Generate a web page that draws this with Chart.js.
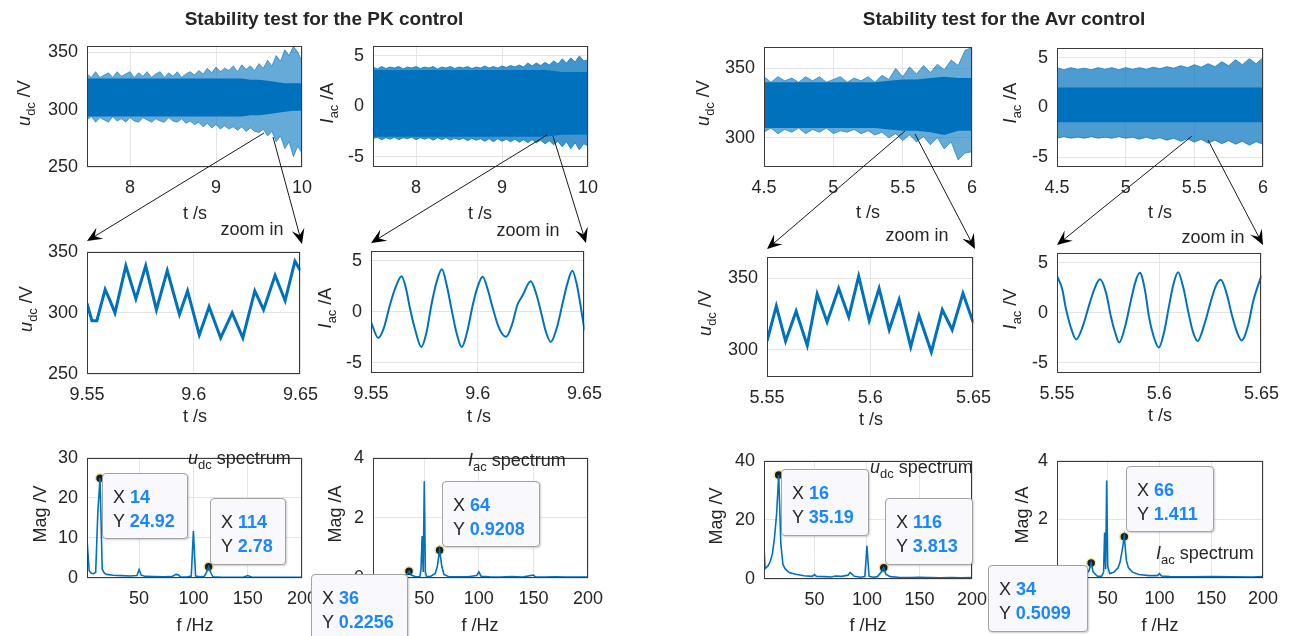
<!DOCTYPE html>
<html>
<head>
<meta charset="utf-8">
<script src="https://cdn.jsdelivr.net/npm/chart.js@4.4.1/dist/chart.umd.min.js"></script>
<style>
  body { margin: 0; background: #fff; }
  #fig { position: relative; width: 1290px; height: 636px; overflow: hidden; font-family: "Liberation Sans", Arial, sans-serif; color: #262626; }
  #fig canvas { position: absolute; }
  #fig svg { position: absolute; left: 0; top: 0; }
  .txt { position: absolute; white-space: nowrap; font-size: 18px; line-height: 1; }
  .txt sub { font-size: 13px; vertical-align: -5px; line-height: 0; }
  .ttl { font-weight: bold; font-size: 19px; transform: translate(-50%, -50%); }
  .ctr { transform: translate(-50%, -50%); }
  .ylab { transform: translate(-50%, -50%) rotate(-90deg); }
  .lft { transform: translateY(-50%); }
  .tip { position: absolute; box-sizing: border-box; background: #f9f9fd; border: 1px solid #a3a3a3; border-radius: 4px;
         box-shadow: 1px 1px 2px rgba(0,0,0,.2); font-size: 18px; line-height: 24px; padding: 11px 0 0 10px; white-space: nowrap; }
  .tip b { color: #1a86ff; }
</style>
</head>
<body>
<div id="fig"></div>
<script>
// ---- PK control: long records (spiky outer envelope + dense core) ----
const tTopPKFine = [7.5, 7.55, 7.6, 7.65, 7.7, 7.75, 7.8, 7.85, 7.9, 7.95, 8.0, 8.05, 8.1, 8.15, 8.2, 8.25, 8.3, 8.35, 8.4, 8.45, 8.5, 8.55, 8.6, 8.65, 8.7, 8.75, 8.8, 8.85, 8.9, 8.95, 9.0, 9.05, 9.1, 9.15, 9.2, 9.25, 9.3, 9.35, 9.4, 9.45, 9.5, 9.55, 9.6, 9.65, 9.7, 9.75, 9.8, 9.85, 9.9, 9.95, 10.0];
const udcPKOuterUp = [331, 328, 333, 328, 330, 332, 328, 333, 329, 331, 333, 328, 332, 329, 333, 328, 331, 333, 328, 332, 329, 333, 328, 331, 333, 330, 334, 331, 336, 332, 337, 333, 336, 334, 338, 333, 339, 335, 338, 334, 340, 336, 343, 338, 347, 342, 352, 347, 355, 350, 342];
const udcPKOuterLo = [291, 294, 289, 293, 291, 289, 294, 290, 292, 289, 293, 290, 289, 293, 291, 289, 292, 290, 289, 293, 290, 289, 292, 288, 290, 287, 289, 285, 288, 284, 287, 283, 286, 283, 285, 282, 285, 281, 284, 281, 280, 283, 277, 281, 272, 277, 266, 272, 259, 268, 262];
const iacPKOuterUp = [3.9, 3.7, 3.95, 3.75, 3.9, 3.8, 3.95, 3.7, 3.9, 3.8, 3.95, 3.75, 3.9, 3.8, 3.95, 3.7, 3.9, 3.8, 3.95, 3.75, 3.9, 3.8, 3.95, 3.75, 3.9, 3.8, 4.0, 3.8, 3.95, 3.8, 4.0, 3.85, 4.05, 3.9, 4.1, 3.9, 4.3, 4.0, 4.3, 4.05, 4.35, 4.1, 4.5, 4.2, 4.7, 4.3, 4.8, 4.4, 5.0, 4.5, 4.6];
const iacPKOuterLo = [-3.2, -3.05, -3.3, -3.1, -3.25, -3.05, -3.3, -3.1, -3.2, -3.05, -3.3, -3.1, -3.25, -3.1, -3.35, -3.1, -3.3, -3.1, -3.35, -3.15, -3.3, -3.15, -3.4, -3.15, -3.35, -3.2, -3.45, -3.2, -3.5, -3.2, -3.45, -3.25, -3.5, -3.25, -3.55, -3.3, -3.6, -3.3, -3.6, -3.35, -3.7, -3.4, -3.8, -3.45, -4.0, -3.5, -4.2, -3.6, -4.3, -3.7, -3.9];
const tTopPK = [7.5, 7.6, 7.7, 7.8, 7.9, 8.0, 8.1, 8.2, 8.3, 8.4, 8.5, 8.6, 8.7, 8.8, 8.9, 9.0, 9.1, 9.2, 9.3, 9.4, 9.5, 9.6, 9.7, 9.8, 9.9, 10.0];
const udcPKCoreUp = [327, 327, 327, 327, 327, 327, 327, 327, 327, 327, 327, 327, 327, 327, 327, 327, 327, 327, 327, 326, 326, 325, 324, 323, 323, 323];
const udcPKCoreLo = [294, 294, 294, 294, 294, 294, 294, 294, 294, 294, 294, 294, 294, 294, 294, 294, 294, 294, 294, 295, 295, 296, 297, 298, 299, 299];
const iacPKCoreUp = [3.6, 3.6, 3.6, 3.6, 3.6, 3.6, 3.6, 3.6, 3.6, 3.6, 3.6, 3.6, 3.6, 3.6, 3.6, 3.6, 3.6, 3.6, 3.6, 3.6, 3.6, 3.5, 3.4, 3.4, 3.4, 3.4];
const iacPKCoreLo = [-3.0, -3.0, -3.0, -3.0, -3.0, -3.0, -3.0, -3.0, -3.0, -3.0, -3.0, -3.0, -3.0, -3.0, -3.0, -3.0, -3.0, -3.0, -3.0, -3.0, -3.0, -2.9, -2.8, -2.8, -2.8, -2.8];

// ---- PK control: zoom 9.55 .. 9.65 s ----
const tZoomPKu = [9.55, 9.5523, 9.5546, 9.5585, 9.5608, 9.5631, 9.5682, 9.5729, 9.5775, 9.5825, 9.5876, 9.5933, 9.5971, 9.6026, 9.6072, 9.6126, 9.618, 9.623, 9.6286, 9.6327, 9.6381, 9.6428, 9.6474, 9.65];
const udcZoomPK = [307.7, 293.6, 293.6, 319.2, 310, 300, 338.5, 311.5, 338.5, 302.6, 334.6, 298.7, 318, 282, 305, 279.5, 300, 279.5, 318, 302.6, 330.8, 310, 342.3, 334.6];
const tZoomPKi = [9.55, 9.5534, 9.556, 9.5589, 9.5615, 9.5643, 9.5665, 9.5682, 9.571, 9.5736, 9.576, 9.5783, 9.5808, 9.5832, 9.5855, 9.5876, 9.59, 9.5925, 9.595, 9.5977, 9.6, 9.6023, 9.6047, 9.607, 9.61, 9.6132, 9.616, 9.6186, 9.621, 9.6248, 9.6272, 9.6295, 9.632, 9.6342, 9.637, 9.6396, 9.642, 9.6443, 9.6465, 9.6481, 9.65];
const iacZoomPK = [-1.0, -2.55, -1.6, 0.7, 2.4, 3.5, 2.2, 0.4, -2.0, -3.45, -2.0, 0.7, 3.0, 4.2, 2.6, 0.4, -2.0, -3.45, -2.0, 0.7, 2.5, 3.45, 2.2, 0.4, -1.6, -2.45, -1.3, 0.7, 1.6, 3.0, 1.9, 0.1, -2.0, -2.95, -1.6, 0.7, 2.8, 4.05, 2.6, 0.7, -1.8];

// ---- PK control: spectra ----
const fSpecPKu = [2, 4, 6, 8, 10, 12, 14, 16, 18, 20, 26, 34, 42, 48, 50, 52, 56, 64, 72, 80, 84, 86, 88, 94, 98, 100, 102, 106, 110, 112, 114, 116, 118, 126, 136, 146, 150, 154, 166, 176, 186, 196, 200];
const magSpecPKu = [9.7, 1.8, 1.2, 1.1, 1.4, 16.5, 24.92, 2.2, 1.2, 0.9, 0.7, 0.6, 0.5, 0.6, 2.1, 0.7, 0.4, 0.35, 0.3, 0.35, 0.9, 0.8, 0.3, 0.25, 0.5, 11.7, 0.5, 0.3, 0.4, 1.4, 2.78, 1.3, 0.3, 0.2, 0.2, 0.2, 0.6, 0.2, 0.15, 0.2, 0.15, 0.15, 0.15];
const fSpecPKi = [3, 10, 20, 30, 34, 36, 38, 42, 46, 47, 48, 49, 50, 51, 52, 56, 60, 62, 64, 66, 68, 72, 80, 90, 98, 100, 102, 110, 120, 130, 140, 150, 152, 160, 170, 180, 190, 200];
const magSpecPKi = [0.03, 0.02, 0.03, 0.05, 0.12, 0.2256, 0.1, 0.04, 0.05, 0.3, 1.4, 0.2, 3.22, 0.2, 0.05, 0.06, 0.15, 0.4, 0.9208, 0.4, 0.12, 0.05, 0.04, 0.04, 0.08, 0.2, 0.06, 0.04, 0.03, 0.05, 0.03, 0.1, 0.03, 0.03, 0.04, 0.03, 0.03, 0.03];
const tipsPKu = [[14, 24.92], [114, 2.78]];
const tipsPKi = [[64, 0.9208], [36, 0.2256]];

// ---- Avr control: long records ----
const tTopAvrFine = [4.5, 4.55, 4.6, 4.65, 4.7, 4.75, 4.8, 4.85, 4.9, 4.95, 5.0, 5.05, 5.1, 5.15, 5.2, 5.25, 5.3, 5.35, 5.4, 5.45, 5.5, 5.55, 5.6, 5.65, 5.7, 5.75, 5.8, 5.85, 5.9, 5.95, 6.0];
const udcAvrOuterUp = [344, 340, 344, 341, 343, 340, 344, 341, 344, 340, 342, 344, 340, 343, 341, 344, 340, 345, 342, 350, 344, 351, 346, 352, 347, 353, 349, 356, 352, 363, 365];
const udcAvrOuterLo = [304, 307, 303, 306, 304, 307, 303, 306, 304, 307, 303, 305, 304, 306, 303, 305, 302, 304, 300, 303, 298, 302, 297, 301, 295, 300, 292, 297, 284, 289, 290];
const iacAvrOuterUp = [4.0, 3.8, 4.0, 3.85, 3.95, 3.8, 4.0, 3.85, 4.0, 3.8, 4.0, 3.85, 4.0, 3.85, 4.05, 3.9, 4.1, 3.95, 4.2, 4.0, 4.3, 4.05, 4.4, 4.1, 4.6, 4.2, 4.8, 4.3, 4.9, 4.4, 5.0];
const iacAvrOuterLo = [-3.1, -2.95, -3.1, -3.0, -3.1, -2.95, -3.1, -3.0, -3.1, -2.95, -3.1, -3.0, -3.2, -3.0, -3.2, -3.05, -3.3, -3.1, -3.4, -3.15, -3.5, -3.2, -3.6, -3.3, -3.65, -3.35, -3.7, -3.4, -3.8, -3.45, -3.7];
const tTopAvr = [4.5, 4.6, 4.7, 4.8, 4.9, 5.0, 5.1, 5.2, 5.3, 5.4, 5.5, 5.6, 5.7, 5.8, 5.9, 6.0];
const udcAvrCoreUp = [340, 340, 340, 340, 340, 340, 340, 340, 340, 341, 342, 342, 343, 344, 343, 343];
const udcAvrCoreLo = [307, 307, 307, 307, 307, 307, 307, 307, 307, 306, 305, 305, 304, 302, 305, 305];
const iacAvrCoreUp = [2.0, 2.0, 2.0, 2.0, 2.0, 2.0, 2.0, 2.0, 2.0, 2.0, 2.0, 2.0, 2.0, 2.0, 2.0, 2.0];
const iacAvrCoreLo = [-1.5, -1.5, -1.5, -1.5, -1.5, -1.5, -1.5, -1.5, -1.5, -1.5, -1.5, -1.5, -1.5, -1.5, -1.5, -1.5];

// ---- Avr control: zoom 5.55 .. 5.65 s ----
const tZoomAvru = [5.55, 5.5545, 5.559, 5.5641, 5.5695, 5.5743, 5.5791, 5.5847, 5.5896, 5.5944, 5.5995, 5.6043, 5.6092, 5.614, 5.6196, 5.6236, 5.6296, 5.6349, 5.6397, 5.6449, 5.65];
const udcZoomAvr = [306, 330.5, 306, 327, 303, 339, 319.5, 343, 323, 351.5, 320.5, 343, 314, 335, 302, 324, 298.5, 328, 314, 339.5, 318.5];
const tZoomAvri = [5.55, 5.5525, 5.5545, 5.557, 5.5594, 5.5625, 5.5659, 5.5685, 5.571, 5.574, 5.5764, 5.5785, 5.5804, 5.5835, 5.5861, 5.5885, 5.5905, 5.593, 5.595, 5.5975, 5.5998, 5.6025, 5.6047, 5.607, 5.6092, 5.6118, 5.6141, 5.6165, 5.6188, 5.622, 5.6249, 5.6275, 5.6301, 5.633, 5.6354, 5.638, 5.6403, 5.6435, 5.646, 5.65];
const iacZoomAvr = [3.7, 2.4, 0.3, -1.6, -2.65, -1.4, 0.9, 2.5, 3.35, 2.0, -0.4, -2.0, -2.95, -1.2, 1.2, 3.2, 4.0, 2.3, -0.4, -2.5, -3.45, -1.8, 0.6, 2.9, 4.05, 2.5, 0.2, -1.9, -2.8, -1.2, 0.9, 2.6, 3.3, 1.9, -0.1, -1.9, -2.75, -1.2, 1.2, 3.75];

// ---- Avr control: spectra ----
const fSpecAvru = [2, 3, 6, 8, 10, 12, 14, 16, 18, 20, 22, 26, 32, 40, 48, 50, 52, 60, 66, 70, 76, 82, 84, 86, 88, 94, 98, 100, 102, 106, 110, 114, 116, 118, 122, 130, 140, 150, 160, 170, 180, 190, 200];
const magSpecAvru = [11.2, 3.5, 4.5, 6, 8.5, 14, 22, 35.19, 12, 5, 3.5, 2.2, 1.6, 1.1, 0.9, 1.5, 0.9, 0.8, 0.7, 1.0, 0.9, 1.3, 2.2, 1.6, 0.9, 0.6, 0.8, 11.2, 0.9, 0.6, 0.8, 2.5, 3.813, 1.6, 0.8, 0.6, 0.5, 0.6, 0.5, 0.4, 0.5, 0.4, 0.5];
const fSpecAvri = [1, 10, 20, 28, 32, 34, 36, 40, 44, 46, 47, 48, 49, 50, 52, 56, 60, 62, 64, 66, 68, 70, 74, 80, 90, 98, 100, 102, 110, 130, 150, 170, 190, 200];
const magSpecAvri = [0.05, 0.04, 0.05, 0.08, 0.25, 0.5099, 0.2, 0.06, 0.06, 0.2, 1.55, 0.3, 3.33, 0.4, 0.15, 0.2, 0.35, 0.55, 0.95, 1.411, 0.6, 0.35, 0.2, 0.12, 0.08, 0.08, 0.15, 0.07, 0.05, 0.04, 0.05, 0.04, 0.03, 0.05];
const tipsAvru = [[16, 35.19], [116, 3.813]];
const tipsAvri = [[66, 1.411], [34, 0.5099]];

// ---- tick labels ----
const ticksTPK = [8, 9, 10];
const ticksTZoomPK = [9.55, 9.6, 9.65];
const ticksTAvr = [4.5, 5, 5.5, 6];
const ticksTZoomAvr = [5.55, 5.6, 5.65];
const ticksF = [50, 100, 150, 200];
const ticksUdcPK = [250, 300, 350];
const ticksUdcAvr = [300, 350];
const ticksIac = [-5, 0, 5];
const ticksMagUPK = [0, 10, 20, 30];
const ticksMagUAvr = [0, 20, 40];
const ticksMagI = [0, 2, 4];

Chart.defaults.font.family = '"Liberation Sans", Arial, sans-serif';
Chart.defaults.font.size = 18;
Chart.defaults.color = '#262626';

const BLUE = '#0072bd';
const PAD = { l: 60, t: 12, r: 26, b: 34 };
const fig = document.getElementById('fig');

// axes box like matlab (all four sides)
const boxPlugin = {
  id: 'axesBox',
  afterDraw(chart) {
    const { ctx, chartArea: a } = chart;
    ctx.save();
    ctx.strokeStyle = '#3a3a3a';
    ctx.lineWidth = 1;
    ctx.strokeRect(Math.round(a.left) + 0.5, Math.round(a.top) + 0.5, Math.round(a.right - a.left) - 1, Math.round(a.bottom - a.top) - 1);
    ctx.restore();
  }
};

const pts = (xs, ys) => xs.map((x, i) => ({ x: x, y: ys[i] }));

function lineSet(xs, ys, width, extra) {
  return Object.assign({ data: pts(xs, ys), borderColor: BLUE, borderWidth: width, pointRadius: 0, fill: false, tension: 0 }, extra || {});
}

function bandSets(tFine, outerUp, outerLo, t, coreUp, coreLo, alpha) {
  const light = `rgba(0,114,189,${alpha})`;
  return [
    lineSet(tFine, outerUp, 1, { borderColor: light }),
    lineSet(tFine, outerLo, 1, { borderColor: light, fill: '-1', backgroundColor: light }),
    lineSet(t, coreUp, 0),
    lineSet(t, coreLo, 0, { fill: '-1', backgroundColor: BLUE })
  ];
}

function tipSet(tips) {
  return {
    data: tips.map(p => ({ x: p[0], y: p[1] })),
    showLine: false, pointRadius: 4.5, pointBackgroundColor: '#1e1e1e',
    pointBorderColor: '#efe6a6', pointBorderWidth: 1.5
  };
}

function plotAt(box, datasets, xr, xt, yr, yt) {
  const canvas = document.createElement('canvas');
  const w = box[2] - box[0] + PAD.l + PAD.r;
  const h = box[3] - box[1] + PAD.t + PAD.b;
  canvas.width = w;
  canvas.height = h;
  canvas.style.left = (box[0] - PAD.l) + 'px';
  canvas.style.top = (box[1] - PAD.t) + 'px';
  canvas.style.width = w + 'px';
  canvas.style.height = h + 'px';
  fig.appendChild(canvas);

  const axis = (range, ticks, horizontal) => ({
    type: 'linear',
    min: range[0],
    max: range[1],
    afterBuildTicks: s => { s.ticks = ticks.map(v => ({ value: v })); },
    afterFit: s => { if (horizontal) s.height = PAD.b; else s.width = PAD.l; },
    ticks: { padding: horizontal ? 10 : 9, autoSkip: false, maxRotation: 0, callback: v => String(v) },
    grid: { color: '#e4e4e4', drawTicks: false },
    border: { display: false }
  });

  return new Chart(canvas.getContext('2d'), {
    type: 'line',
    data: { datasets: datasets },
    options: {
      responsive: false,
      animation: false,
      devicePixelRatio: 1,
      layout: { padding: { left: 0, top: PAD.t, right: PAD.r, bottom: 0 } },
      plugins: { legend: { display: false }, tooltip: { enabled: false } },
      scales: { x: axis(xr, xt, true), y: axis(yr, yt, false) }
    },
    plugins: [boxPlugin]
  });
}

function addText(html, x, y, cls) {
  const d = document.createElement('div');
  d.className = 'txt ' + cls;
  d.style.left = x + 'px';
  d.style.top = y + 'px';
  d.innerHTML = html;
  fig.appendChild(d);
}

function addTip(tip, box) {
  const d = document.createElement('div');
  d.className = 'tip';
  d.style.left = box[0] + 'px';
  d.style.top = box[1] + 'px';
  d.style.width = box[2] + 'px';
  d.style.height = box[3] + 'px';
  d.innerHTML = `X <b>${tip[0]}</b><br>Y <b>${tip[1]}</b>`;
  fig.appendChild(d);
}

// ---------------- PK control ----------------
plotAt([87, 38, 302, 167], bandSets(tTopPKFine, udcPKOuterUp, udcPKOuterLo, tTopPK, udcPKCoreUp, udcPKCoreLo, 0.6),
  [7.5, 10], ticksTPK, [250, 355.5], ticksUdcPK);
plotAt([373, 38, 588, 167], bandSets(tTopPKFine, iacPKOuterUp, iacPKOuterLo, tTopPK, iacPKCoreUp, iacPKCoreLo, 0.75),
  [7.5, 10], ticksTPK, [-6, 6], ticksIac);
plotAt([87, 244, 302, 374], [lineSet(tZoomPKu, udcZoomPK, 3)],
  [9.55, 9.65], ticksTZoomPK, [250, 350], ticksUdcPK);
plotAt([371, 243, 586, 373], [lineSet(tZoomPKi, iacZoomPK, 2, { cubicInterpolationMode: 'monotone' })],
  [9.55, 9.65], ticksTZoomPK, [-6, 6], ticksIac);
plotAt([87, 450, 302, 578], [lineSet(fSpecPKu, magSpecPKu, 1.6), tipSet(tipsPKu)],
  [2, 200], ticksF, [0, 30], ticksMagUPK);
plotAt([373, 450, 588, 578], [lineSet(fSpecPKi, magSpecPKi, 1.6), tipSet(tipsPKi)],
  [3, 200], ticksF, [0, 4], ticksMagI);

// ---------------- Avr control ----------------
plotAt([764, 39, 972, 167], bandSets(tTopAvrFine, udcAvrOuterUp, udcAvrOuterLo, tTopAvr, udcAvrCoreUp, udcAvrCoreLo, 0.6),
  [4.5, 6], ticksTAvr, [279, 365.5], ticksUdcAvr);
plotAt([1057, 40, 1263, 167], bandSets(tTopAvrFine, iacAvrOuterUp, iacAvrOuterLo, tTopAvr, iacAvrCoreUp, iacAvrCoreLo, 0.7),
  [4.5, 6], ticksTAvr, [-6, 6], ticksIac);
plotAt([767, 249, 975, 377], [lineSet(tZoomAvru, udcZoomAvr, 3)],
  [5.55, 5.65], ticksTZoomAvr, [281, 365], ticksUdcAvr);
plotAt([1057, 245, 1263, 373], [lineSet(tZoomAvri, iacZoomAvr, 2, { cubicInterpolationMode: 'monotone' })],
  [5.55, 5.65], ticksTZoomAvr, [-6, 6], ticksIac);
plotAt([764, 453, 972, 579], [lineSet(fSpecAvru, magSpecAvru, 1.6), tipSet(tipsAvru)],
  [2, 200], ticksF, [0, 40], ticksMagUAvr);
plotAt([1057, 453, 1263, 578], [lineSet(fSpecAvri, magSpecAvri, 1.6), tipSet(tipsAvri)],
  [1, 200], ticksF, [0, 4], ticksMagI);

// ---------------- arrows from the long record to the zoom ----------------
const arrows = [
  [264, 133, 87, 241], [273, 137, 302, 244],
  [547, 135, 371, 243], [553, 136, 586, 243],
  [905, 131, 767, 249], [915, 134, 975, 249],
  [1192, 136, 1057, 245], [1208, 140, 1263, 245]
];
const NS = 'http://www.w3.org/2000/svg';
const svg = document.createElementNS(NS, 'svg');
svg.setAttribute('width', 1290);
svg.setAttribute('height', 636);
arrows.forEach(([x1, y1, x2, y2]) => {
  const len = Math.hypot(x2 - x1, y2 - y1);
  const ux = (x2 - x1) / len, uy = (y2 - y1) / len;
  const px = -uy, py = ux;
  const L = 15, W = 6.5;
  const line = document.createElementNS(NS, 'line');
  line.setAttribute('x1', x1); line.setAttribute('y1', y1);
  line.setAttribute('x2', x2 - ux * 8); line.setAttribute('y2', y2 - uy * 8);
  line.setAttribute('stroke', '#1a1a1a'); line.setAttribute('stroke-width', 1);
  svg.appendChild(line);
  const head = document.createElementNS(NS, 'polygon');
  const p = [
    [x2, y2],
    [x2 - ux * L + px * W, y2 - uy * L + py * W],
    [x2 - ux * L * 0.6, y2 - uy * L * 0.6],
    [x2 - ux * L - px * W, y2 - uy * L - py * W]
  ];
  head.setAttribute('points', p.map(q => q.join(',')).join(' '));
  head.setAttribute('fill', '#000');
  svg.appendChild(head);
});
fig.appendChild(svg);

// ---------------- text ----------------
const U = '<i>u</i><sub>dc</sub>';
const I = '<i>I</i><sub>ac</sub>';

addText('Stability test for the PK control', 324, 18, 'ttl');
addText('Stability test for the Avr control', 1004, 18, 'ttl');

addText(U + ' /V', 24, 103, 'ylab');
addText(I + ' /A', 327, 103, 'ylab');
addText(U + ' /V', 26, 309, 'ylab');
addText(I + ' /A', 325, 308, 'ylab');
addText('Mag /V', 40, 514, 'ylab');
addText('Mag /A', 335, 514, 'ylab');
addText(U + ' /V', 703, 103, 'ylab');
addText(I + ' /A', 1010, 103, 'ylab');
addText(U + ' /V', 705, 313, 'ylab');
addText(I + ' /V', 1010, 309, 'ylab');
addText('Mag /V', 716, 516, 'ylab');
addText('Mag /A', 1022, 515, 'ylab');

addText('t /s', 195, 213, 'ctr');
addText('t /s', 480, 213, 'ctr');
addText('t /s', 195, 416, 'ctr');
addText('t /s', 479, 416, 'ctr');
addText('f /Hz', 195, 625, 'ctr');
addText('f /Hz', 480, 625, 'ctr');
addText('t /s', 868, 212, 'ctr');
addText('t /s', 1160, 212, 'ctr');
addText('t /s', 871, 419, 'ctr');
addText('t /s', 1160, 415, 'ctr');
addText('f /Hz', 868, 625, 'ctr');
addText('f /Hz', 1160, 625, 'ctr');

addText('zoom in', 252, 229, 'ctr');
addText('zoom in', 528, 230, 'ctr');
addText('zoom in', 917, 235, 'ctr');
addText('zoom in', 1213, 237, 'ctr');

addText(U + ' spectrum', 188, 458, 'lft');
addText(I + ' spectrum', 468, 460, 'lft');
addText(U + ' spectrum', 870, 467, 'lft');
addText(I + ' spectrum', 1156, 553, 'lft');

// data tips
addTip(tipsPKu[0], [102, 473, 86, 66]);
addTip(tipsPKu[1], [210, 498, 76, 67]);
addTip(tipsPKi[0], [442, 481, 98, 66]);
addTip(tipsPKi[1], [311, 574, 97, 66]);
addTip(tipsAvru[0], [781, 469, 88, 67]);
addTip(tipsAvru[1], [885, 498, 88, 67]);
addTip(tipsAvri[0], [1126, 466, 88, 66]);
addTip(tipsAvri[1], [988, 565, 100, 67]);
</script>
</body>
</html>
